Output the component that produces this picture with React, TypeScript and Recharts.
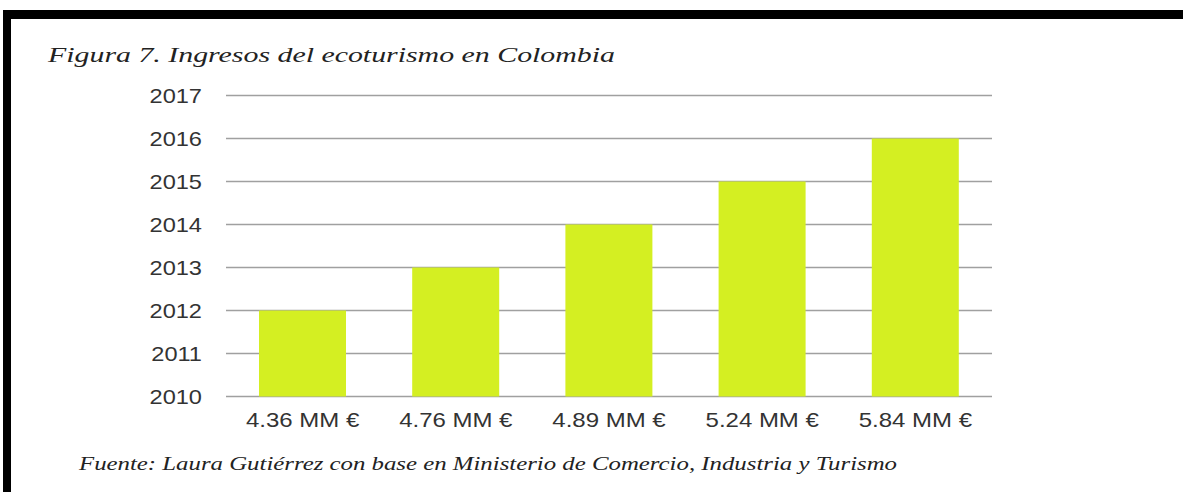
import { BarChart, Bar, XAxis, YAxis, CartesianGrid } from "recharts";

// revenue labels on the x axis, year reached on the y axis
const categories = ["4.36 MM €", "4.76 MM €", "4.89 MM €", "5.24 MM €", "5.84 MM €"];
const years = [2012, 2013, 2014, 2015, 2016];
const yTicks = [2010, 2011, 2012, 2013, 2014, 2015, 2016, 2017];

const title = "Figura 7. Ingresos del ecoturismo en Colombia";
const source =
  "Fuente: Laura Gutiérrez con base en Ministerio de Comercio, Industria y Turismo";

const W = 1183;
const H = 492;
const BAR = "#d4ef22";
const GRID = "#a0a0a0";
const TEXT = "#333333";
const SANS = "'Liberation Sans', Arial, sans-serif";
const SERIF = "'Liberation Serif', 'Times New Roman', serif";

const data = categories.map((name, i) => ({ name, year: years[i] }));

const YTick = ({ x, y, payload }: any) => (
  <text
    transform={`translate(${x},${y}) scale(1.18,1)`}
    textAnchor="end"
    dy="0.36em"
    fontFamily={SANS}
    fontSize={20}
    fill={TEXT}
  >
    {payload.value}
  </text>
);

const XTick = ({ x, y, payload }: any) => (
  <text
    transform={`translate(${x},${y}) scale(1.2,1)`}
    textAnchor="middle"
    dy="0.71em"
    fontFamily={SANS}
    fontSize={20}
    fill={TEXT}
  >
    {payload.value}
  </text>
);

export default function App() {
  return (
    <div
      style={{
        position: "absolute",
        left: 0,
        top: 0,
        width: W,
        height: H,
        background: "#fff",
      }}
    >
      <BarChart
        width={W}
        height={H}
        data={data}
        margin={{ top: 95.5, right: 191, bottom: 65.5, left: 166 }}
      >
        <CartesianGrid vertical={false} stroke={GRID} strokeWidth={1.5} />
        <XAxis
          dataKey="name"
          height={30}
          axisLine={false}
          tickLine={false}
          tickSize={0}
          tickMargin={16}
          tick={<XTick />}
          interval={0}
        />
        <YAxis
          type="number"
          domain={[2010, 2017]}
          ticks={yTicks}
          width={60}
          axisLine={false}
          tickLine={false}
          tickSize={0}
          tickMargin={24}
          tick={<YTick />}
          interval={0}
        />
        <Bar dataKey="year" fill={BAR} barSize={87} isAnimationActive={false} />
      </BarChart>

      <svg
        width={W}
        height={H}
        style={{ position: "absolute", left: 0, top: 0, pointerEvents: "none" }}
      >
        {/* frame: thick top and left edges */}
        <rect x={3} y={10} width={W - 3} height={9} fill="#000" />
        <rect x={3} y={10} width={8} height={H - 10} fill="#000" />

        <text
          x={48}
          y={61.5}
          fontFamily={SERIF}
          fontStyle="italic"
          fontSize={22}
          fill="#222"
          textLength={567}
          lengthAdjust="spacingAndGlyphs"
        >
          {title}
        </text>
        <text
          x={79}
          y={470}
          fontFamily={SERIF}
          fontStyle="italic"
          fontSize={18}
          fill="#222"
          textLength={818}
          lengthAdjust="spacingAndGlyphs"
        >
          {source}
        </text>
      </svg>
    </div>
  );
}
